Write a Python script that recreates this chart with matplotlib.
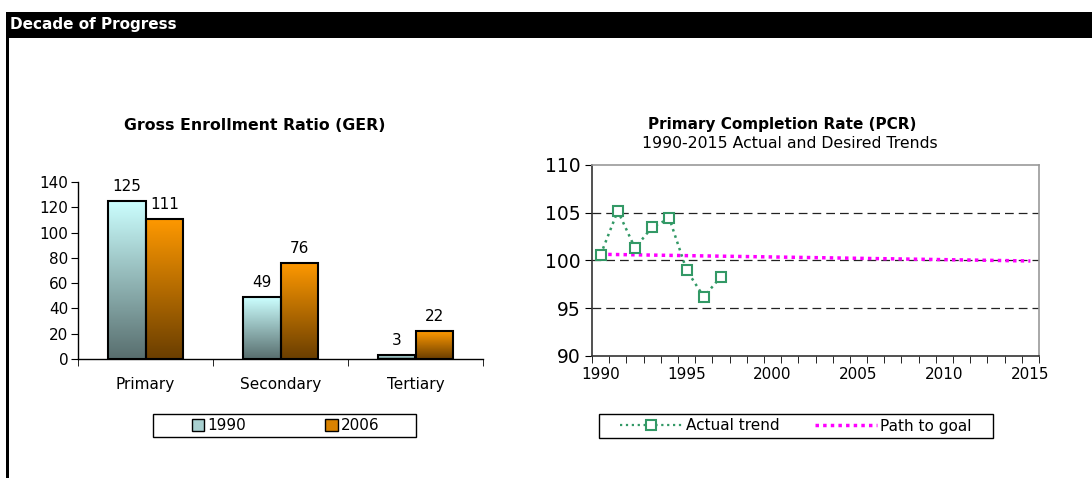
import numpy as np
import matplotlib
matplotlib.use("Agg")
import matplotlib.pyplot as plt
from matplotlib.colors import LinearSegmentedColormap
from matplotlib.patches import Rectangle, Patch
from matplotlib.lines import Line2D

plt.rcParams['font.family'] = ['DejaVu Sans']

# data
levels = ["Primary", "Secondary", "Tertiary"]
ger_1990 = [125, 49, 3]
ger_2006 = [111, 76, 22]

actual_years = [1990, 1991, 1992, 1993, 1994, 1995, 1996, 1997]
actual_pcr = [100.6, 105.2, 101.3, 103.5, 104.4, 99.0, 96.2, 98.3]
goal_years = [1990, 2015]
goal_pcr = [100.65, 99.95]

W, H = 1092, 478
fig = plt.figure(figsize=(W / 100, H / 100), dpi=100)


def fx(px):
    return px / W


def fy(py):
    return 1 - py / H


def box(x0, y0, x1, y1):
    # legend frame in pixel coords
    fig.patches.append(Rectangle((fx(x0), fy(y1)), fx(x1 - x0), (y1 - y0) / H,
                                 transform=fig.transFigure, facecolor='none',
                                 edgecolor='black', linewidth=1.0))


# header bar and left border
fig.patches.append(Rectangle((fx(6), fy(38)), fx(W - 6), 26 / H, transform=fig.transFigure,
                             facecolor='black', edgecolor='none'))
fig.patches.append(Rectangle((fx(6), 0), fx(3), fy(38), transform=fig.transFigure,
                             facecolor='black', edgecolor='none'))
fig.text(fx(10), fy(25), "Decade of Progress", color='white', fontsize=11,
         fontweight='bold', va='center', ha='left')

# ---------- bar chart ----------
ax1 = fig.add_axes([fx(78), fy(359), fx(405), 177 / H])
x = np.arange(len(levels))
bw = 0.28
cm_1990 = LinearSegmentedColormap.from_list("c90", ["#CCFFFF", "#586E6E"])
cm_2006 = LinearSegmentedColormap.from_list("c06", ["#FF9900", "#6A3E00"])
grad = np.linspace(0, 1, 256).reshape(-1, 1)

for offs, vals, cmap in [(-bw / 2, ger_1990, cm_1990), (bw / 2, ger_2006, cm_2006)]:
    bars = ax1.bar(x + offs, vals, width=bw, facecolor='none', edgecolor='black',
                   linewidth=1.5, zorder=3)
    for b, v in zip(bars, vals):
        x0, w_, h_ = b.get_x(), b.get_width(), b.get_height()
        im = ax1.imshow(grad, cmap=cmap, aspect='auto', extent=[x0, x0 + w_, 0, h_],
                        origin='upper', zorder=2)
        im.set_clip_path(b)
        ax1.annotate(str(v), (x0 + w_ / 2, h_), xytext=(0, 5), textcoords='offset points',
                     ha='center', va='bottom', fontsize=11)

ax1.set_xlim(-0.5, 2.5)
ax1.set_ylim(0, 140)
ax1.set_yticks(range(0, 141, 20))
ax1.set_xticks(x)
ax1.set_xticklabels(levels, fontsize=11)
ax1.set_xticks([-0.5, 0.5, 1.5, 2.5], minor=True)
ax1.tick_params(axis='x', which='major', length=0, pad=13)
ax1.tick_params(axis='x', which='minor', length=5, direction='out')
ax1.tick_params(axis='y', labelsize=11, length=5, direction='out', pad=2)
for s in ['top', 'right']:
    ax1.spines[s].set_visible(False)
for s in ['left', 'bottom']:
    ax1.spines[s].set_linewidth(1.0)
fig.text(fx(255), fy(125), "Gross Enrollment Ratio (GER)", fontsize=11.3,
         fontweight='bold', ha='center', va='center')

fig.legend(handles=[Patch(facecolor='#A8D0D0', edgecolor='black', label='1990'),
                    Patch(facecolor='#D98200', edgecolor='black', label='2006')],
           loc='center', bbox_to_anchor=(fx(285.5), fy(426)), ncol=2,
           fontsize=11, frameon=False, handlelength=0.8,
           handleheight=0.8, handletextpad=0.2, columnspacing=5.2,
           borderpad=0.2, borderaxespad=0)
box(153, 414, 416, 437)

# ---------- line chart ----------
ax2 = fig.add_axes([fx(592), fy(356), fx(447), 191 / H])
green = '#339966'
ax2.plot(actual_years, actual_pcr, linestyle=':', color=green, linewidth=1.8,
         marker='s', markersize=7.5, markerfacecolor='white', markeredgecolor=green,
         markeredgewidth=1.5, zorder=4)
ax2.plot(goal_years, goal_pcr, linestyle=(0, (1, 1.2)), color='#FF00FF', linewidth=2.5,
         zorder=3)
for gy in [95, 100, 105]:
    ax2.axhline(gy, color='#222222', linewidth=0.9, dashes=(7, 4), zorder=1)

ax2.set_xlim(1989.5, 2015.5)
ax2.set_ylim(90, 110)
ax2.set_yticks(range(90, 111, 5))
ax2.set_xticks(range(1990, 2016, 5))
ax2.set_xticks(np.arange(1989.5, 2016, 1), minor=True)
ax2.tick_params(axis='x', which='major', length=0, labelsize=11, pad=8)
ax2.tick_params(axis='x', which='minor', length=5, direction='out')
ax2.tick_params(axis='y', labelsize=13.5, length=5, direction='out', pad=3)
for s in ['top', 'right']:
    ax2.spines[s].set_color('#999999')
    ax2.spines[s].set_linewidth(1.2)
for s in ['left', 'bottom']:
    ax2.spines[s].set_color('#333333')
    ax2.spines[s].set_linewidth(1.2)
fig.text(fx(782), fy(124), "Primary Completion Rate (PCR)", fontsize=11,
         fontweight='bold', ha='center', va='center')
fig.text(fx(790), fy(144), "1990-2015 Actual and Desired Trends", fontsize=11.3,
         ha='center', va='center')

fig.legend(handles=[Line2D([], [], linestyle=':', color=green, linewidth=1.6, marker='s',
                           markersize=7, markerfacecolor='white',
                           markeredgecolor=green, markeredgewidth=1.5,
                           label='Actual trend'),
                    Line2D([], [], linestyle=(0, (1, 1.2)), color='#FF00FF',
                           linewidth=2.5, label='Path to goal')],
           loc='center', bbox_to_anchor=(fx(796), fy(426)), ncol=2,
           fontsize=11, frameon=False, handlelength=4.1,
           handletextpad=0.2, columnspacing=2.3, borderpad=0.2, borderaxespad=0)
box(599, 414, 993, 438)

fig.savefig("out.png", dpi=100)
